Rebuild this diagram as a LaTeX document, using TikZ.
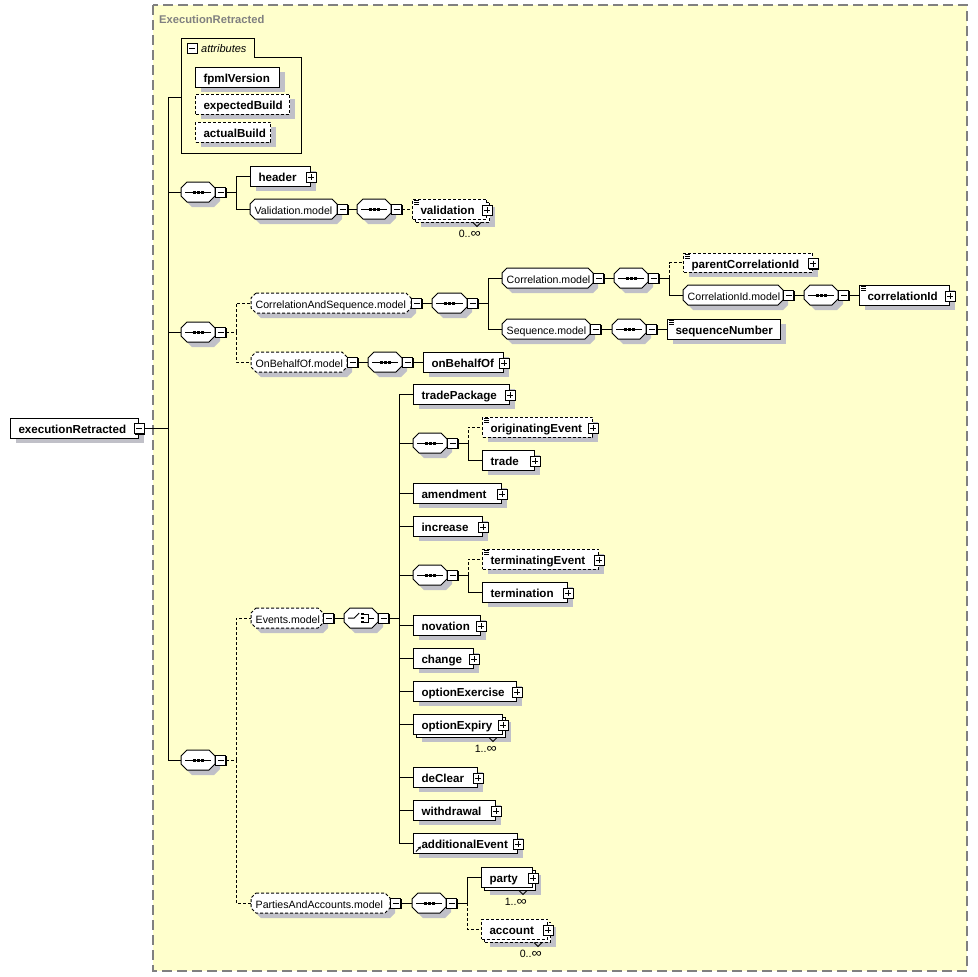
\documentclass[tikz,border=0pt]{standalone}
\usepackage{fontspec}
\setmainfont{Liberation Sans}
\usetikzlibrary{shadows,calc,arrows.meta}
\definecolor{frameyellow}{RGB}{255,255,204}
\definecolor{shadowgray}{RGB}{192,192,200}
\definecolor{framegray}{RGB}{128,128,128}
\tikzset{
  boxline/.style={line width=1pt},
  shad/.style={drop shadow={shadow xshift=5pt,shadow yshift=-5pt,fill=shadowgray,opacity=1}},
  elem/.style={rectangle,draw=black,fill=white,boxline,anchor=west,inner xsep=8pt,inner ysep=0pt,font=\fontsize{11.6}{13}\selectfont\bfseries},
  optbox/.style={dash pattern=on 3pt off 2pt},
  grpnode/.style={rectangle,inner xsep=4.5pt,inner ysep=0pt,anchor=west,font=\fontsize{10.6}{12}\selectfont},
  iconm/.style={rectangle,draw=black,fill=white,line width=1pt,minimum size=10pt,inner sep=0pt,
     drop shadow={shadow xshift=1pt,shadow yshift=-1pt,fill=black,opacity=1},
     path picture={\draw[line width=1pt] ([xshift=2pt]path picture bounding box.west) -- ([xshift=-2pt]path picture bounding box.east);}},
  iconp/.style={rectangle,draw=black,fill=white,line width=1pt,minimum size=10pt,inner sep=0pt,
     drop shadow={shadow xshift=1pt,shadow yshift=-1pt,fill=black,opacity=1},
     path picture={\draw[line width=1pt] ([xshift=2pt]path picture bounding box.west) -- ([xshift=-2pt]path picture bounding box.east) ([yshift=-2pt]path picture bounding box.north) -- ([yshift=2pt]path picture bounding box.south);}},
  conn/.style={line width=1pt},
  optc/.style={line width=1pt,dash pattern=on 3pt off 2pt},
  mult/.style={font=\fontsize{10.6}{12}\selectfont,inner sep=0pt},
}
\newcommand\infsym{\scalebox{1.35}[1.2]{∞}}
% element box: [opts]{name}{x1}{y1}{x2}{y2}{text}
\newcommand\elbox[7][]{%
  \pgfmathsetmacro\bw{#5-(#3)}%
  \pgfmathsetmacro\tw{#5-(#3)-16}%
  \pgfmathsetmacro\bh{#6-(#4)}%
  \pgfmathsetmacro\yc{(#4+#6)/2}%
  \node[elem,minimum width=\bw pt,minimum height=\bh pt,#1] (#2) at (#3,\yc) {\makebox[\tw pt][l]{\rule[-0.8pt]{0pt}{12.8pt}\smash{#7}}};%
}
\newcommand\pluson[1]{\node[iconp] (#1-i) at ($(#1.east)+(0,1)$) {};}
\newcommand\simpmark[1]{\draw[line width=0.7pt] ($(#1.north west)+(2,2)$) -- ++(5,0) ($(#1.north west)+(2,3.7)$) -- ++(5,0) ($(#1.north west)+(2,5.4)$) -- ++(5,0);}
% repeated element: [opts]{name}{x1}{y1}{x2}{y2}{text}{mult}
\newcommand\repel[8][]{%
  \elbox[shad,#1]{#2-b}{#3+3}{#4+3}{#5+3}{#6+3}{}%
  \elbox[#1]{#2}{#3}{#4}{#5}{#6}{#7}%
  \draw[line width=0.8pt] ($(#2-b.south east)+(-17,0)$) -- ++(4,4) -- ++(4,-4);
  \node[mult,anchor=east] (#2-m) at ($(#2-b.south east)+(-9,11)$) {#8};%
}
% octagon: {opts}{x1}{y1}{x2}{y2}{c}
\newcommand\octo[6]{%
  \fill[shadowgray,shift={(5,5)}] (#2+#6,#3) -- (#4-#6,#3) -- (#4,#3+#6) -- (#4,#5-#6) -- (#4-#6,#5) -- (#2+#6,#5) -- (#2,#5-#6) -- (#2,#3+#6) -- cycle;
  \draw[boxline,fill=white,#1] (#2+#6,#3) -- (#4-#6,#3) -- (#4,#3+#6) -- (#4,#5-#6) -- (#4-#6,#5) -- (#2+#6,#5) -- (#2,#5-#6) -- (#2,#3+#6) -- cycle;%
}
% group: [opts]{name}{x1}{y1}{x2}{y2}{text}
\newcommand\grp[7][]{%
  \octo{#1}{#3}{#4}{#5}{#6}{5}%
  \pgfmathsetmacro\bw{#5-(#3)}\pgfmathsetmacro\tw{#5-(#3)-9}%
  \pgfmathsetmacro\bh{#6-(#4)}\pgfmathsetmacro\yc{(#4+#6)/2}%
  \node[grpnode,minimum width=\bw pt,minimum height=\bh pt] (#2) at (#3,\yc) {\makebox[\tw pt][l]{\rule[-0.8pt]{0pt}{12.4pt}\smash{#7}}};
  \node[iconm,anchor=west] (#2-i) at (#2.east) {};%
}
% compositor: [opts]{name}{x1}{y1}{x2}{y2}
\newcommand\compo[6][]{%
  \octo{#1}{#3}{#4}{#5}{#6}{6}%
  \pgfmathsetmacro\bw{#5-(#3)}\pgfmathsetmacro\bh{#6-(#4)}\pgfmathsetmacro\yc{(#4+#6)/2}%
  \node[rectangle,inner sep=0pt,anchor=west,minimum width=\bw pt,minimum height=\bh pt] (#2) at (#3,\yc) {};
  \node[iconm,anchor=west] (#2-i) at (#2.east) {};%
}
\newcommand\seqsym[1]{%
  \draw[line width=1pt] ($(#1.west)+(4,0)$) -- ($(#1.east)+(-4,0)$);
  \foreach \dx in {-3.8,0,3.8}{\fill ($(#1.center)+(\dx-1.5,-1.5)$) rectangle ++(3,3);}%
}
\newcommand\chsym[1]{%
  \draw[line width=1pt] ($(#1.west)+(4,0)$) -- ($(#1.center)+(-7,0)$) -- ($(#1.center)+(-2,-5)$);
  \foreach \dy in {-4,0,4}{\fill ($(#1.center)+(-0.2,\dy-1.3)$) rectangle ++(2.6,2.6);}
  \draw[line width=1pt] ($(#1.center)+(3,-4)$) -- ($(#1.center)+(7,-4)$) -- ($(#1.center)+(7,4)$) -- ($(#1.center)+(3,4)$);
  \draw[line width=1pt] ($(#1.center)+(7,0)$) -- ($(#1.east)+(-4,0)$);%
}
\begin{document}
\begin{tikzpicture}[x=1pt,y=-1pt]
\useasboundingbox (0,0) rectangle (978,977);
\fill[white] (0,0) rectangle (978,977);
% frame
\draw[framegray,line width=1.2pt,dash pattern=on 10pt off 5pt,fill=frameyellow] (153,5) rectangle (967,971);
\node[anchor=west,inner sep=0pt,text=framegray,font=\fontsize{11.2}{13}\selectfont\bfseries] (title) at (159,19) {ExecutionRetracted};

% root
\elbox[shad]{root}{10}{418}{138}{438}{executionRetracted}
\node[iconm] (root-i) at ($(root.east)+(0,0.5)$) {};

% attributes
\draw[boxline] (181,38) -- (254,38) -- (254,57) -- (301,57) -- (301,153) -- (181,153) -- cycle;
\node[iconm] (attr-i) at (192,48) {};
\node[anchor=west,font=\fontsize{11}{12}\selectfont\itshape,inner sep=0pt] (attr-t) at (201,49) {attributes};
\coordinate (attr) at (181,97);
\elbox[shad]{fpml}{195}{67}{279}{87}{fpmlVersion}
\elbox[shad,optbox]{expb}{195}{94}{289}{114}{expectedBuild}
\elbox[shad,optbox]{actb}{195}{122}{270}{142}{actualBuild}

% compositors under root
\compo{s1}{181}{182}{215}{202}\seqsym{s1}
\compo{s2}{181}{322}{215}{342}\seqsym{s2}
\compo{s3}{181}{750}{215}{770}\seqsym{s3}

% header / validation
\elbox[shad]{header}{250}{166}{310}{186}{header}\pluson{header}
\grp{vm}{250}{199}{337}{219}{Validation.model}
\compo{sv}{357}{199}{391}{219}\seqsym{sv}
\repel[optbox]{val}{412}{199}{486}{219}{validation}{0..\infsym}
\simpmark{val}\pluson{val}

% correlation and sequence
\grp[optbox]{cas}{251}{293}{411}{313}{CorrelationAndSequence.model}
\compo{scs}{432}{293}{467}{313}\seqsym{scs}
\grp{cm}{502}{268}{593}{288}{Correlation.model}
\compo{sc}{614}{268}{648}{288}\seqsym{sc}
\elbox[shad,optbox]{pci}{683}{253}{812}{272}{parentCorrelationId}\simpmark{pci}\pluson{pci}
\grp{cim}{683}{285}{783}{305}{CorrelationId.model}
\compo{sci}{804}{285}{838}{305}\seqsym{sci}
\elbox[shad]{cid}{859}{285}{949}{305}{correlationId}\simpmark{cid}\pluson{cid}
\grp{sm}{502}{319}{590}{339}{Sequence.model}
\compo{ss}{612}{319}{646}{339}\seqsym{ss}
\elbox[shad]{sn}{667}{319}{780}{339}{sequenceNumber}\simpmark{sn}

% on behalf of
\grp[optbox]{obm}{251}{352}{347}{372}{OnBehalfOf.model}
\compo{sob}{368}{352}{402}{372}\seqsym{sob}
\elbox[shad]{obo}{423}{352}{503}{372}{onBehalfOf}\pluson{obo}

% events
\grp[optbox]{em}{251}{608}{323}{628}{Events.model}
\compo{ch}{344}{608}{378}{628}\chsym{ch}
\elbox[shad]{tp}{413}{384}{509}{404}{tradePackage}\pluson{tp}
\compo{so}{413}{433}{447}{453}\seqsym{so}
\elbox[shad,optbox]{oe}{482}{417}{592}{437}{originatingEvent}\simpmark{oe}\pluson{oe}
\elbox[shad]{tr}{482}{450}{534}{470}{trade}\pluson{tr}
\elbox[shad]{am}{413}{483}{501}{503}{amendment}\pluson{am}
\elbox[shad]{inc}{413}{516}{482}{536}{increase}\pluson{inc}
\compo{st}{413}{565}{447}{585}\seqsym{st}
\elbox[shad,optbox]{te}{482}{549}{598}{569}{terminatingEvent}\simpmark{te}\pluson{te}
\elbox[shad]{tm}{482}{582}{567}{602}{termination}\pluson{tm}
\elbox[shad]{nov}{413}{615}{480}{635}{novation}\pluson{nov}
\elbox[shad]{chg}{413}{648}{473}{668}{change}\pluson{chg}
\elbox[shad]{oex}{413}{681}{516}{701}{optionExercise}\pluson{oex}
\repel{oexp}{413}{714}{502}{734}{optionExpiry}{1..\infsym}\pluson{oexp}
\elbox[shad]{dc}{413}{767}{477}{787}{deClear}\pluson{dc}
\elbox[shad]{wd}{413}{800}{495}{820}{withdrawal}\pluson{wd}
\elbox[shad]{ae}{413}{833}{517}{853}{additionalEvent}\pluson{ae}
\draw[line width=0.8pt,-{Stealth[length=3pt,width=3.5pt]}] ($(ae.south west)+(3,-2)$) -- ++(5,-5);

% parties and accounts
\grp[optbox]{pam}{251}{893}{390}{913}{PartiesAndAccounts.model}
\compo{spa}{412}{893}{446}{913}\seqsym{spa}
\repel{party}{481}{867}{532}{887}{party}{1..\infsym}\pluson{party}
\repel[optbox]{acc}{481}{919}{547}{939}{account}{0..\infsym}\pluson{acc}

% connectors
\draw[conn] (root-i.east) -- ++(24,0) coordinate (rb);
\draw[conn] (rb) |- (attr);
\draw[conn] (rb) |- (s1.west);
\draw[conn] (rb) |- (s2.west);
\draw[conn] (rb) |- (s3.west);

\draw[conn] (s1-i.east) -- ++(10,0) coordinate (b1);
\draw[conn] (b1) |- (header.west);
\draw[conn] (b1) |- (vm.west);
\draw[conn] (vm-i.east) -- (sv.west);
\draw[optc] (sv-i.east) -- (val.west);

\draw[optc] (s2-i.east) -- ++(10,0) coordinate (b2);
\draw[optc] (b2) |- (cas.west);
\draw[optc] (b2) |- (obm.west);
\draw[conn] (cas-i.east) -- (scs.west);
\draw[conn] (scs-i.east) -- ++(10,0) coordinate (b3);
\draw[conn] (b3) |- (cm.west);
\draw[conn] (b3) |- (sm.west);
\draw[conn] (cm-i.east) -- (sc.west);
\draw[conn] (sc-i.east) -- ++(10,0) coordinate (b4);
\draw[optc] (b4) |- (pci.west);
\draw[conn] (b4) |- (cim.west);
\draw[conn] (cim-i.east) -- (sci.west);
\draw[conn] (sci-i.east) -- (cid.west);
\draw[conn] (sm-i.east) -- (ss.west);
\draw[conn] (ss-i.east) -- (sn.west);
\draw[conn] (obm-i.east) -- (sob.west);
\draw[conn] (sob-i.east) -- (obo.west);

\draw[optc] (s3-i.east) -- ++(10,0) coordinate (b5);
\draw[optc] (b5) |- (em.west);
\draw[optc] (b5) |- (pam.west);
\draw[conn] (em-i.east) -- (ch.west);
\draw[conn] (ch-i.east) -- ++(10,0) coordinate (b6);
\foreach \nn in {tp,so,am,inc,st,nov,chg,oex,oexp,dc,wd,ae}{\draw[conn] (b6) |- (\nn.west);}
\draw[conn] (so-i.east) -- ++(10,0) coordinate (b7);
\draw[optc] (b7) |- (oe.west);
\draw[conn] (b7) |- (tr.west);
\draw[conn] (st-i.east) -- ++(10,0) coordinate (b8);
\draw[optc] (b8) |- (te.west);
\draw[conn] (b8) |- (tm.west);
\draw[conn] (pam-i.east) -- (spa.west);
\draw[conn] (spa-i.east) -- ++(10,0) coordinate (b9);
\draw[conn] (b9) |- (party.west);
\draw[optc] (b9) |- (acc.west);
\end{tikzpicture}
\end{document}
